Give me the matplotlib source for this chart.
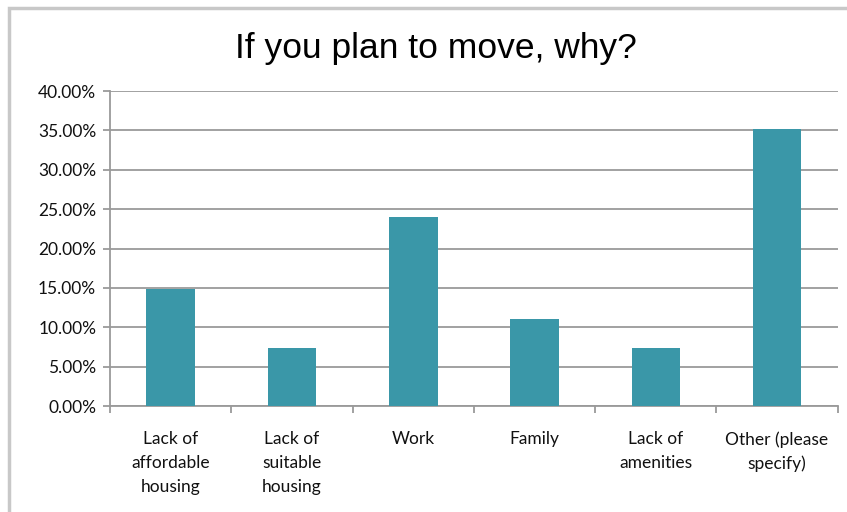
import matplotlib.pyplot as plt
from matplotlib.patches import Rectangle
from matplotlib.ticker import PercentFormatter
import numpy as np

# survey answers
categories = ['Lack of\naffordable\nhousing', 'Lack of\nsuitable\nhousing', 'Work',
              'Family', 'Lack of\namenities', 'Other (please\nspecify)']
shares = [14.81, 7.41, 24.07, 11.11, 7.41, 35.19]
y_ticks = [0, 5, 10, 15, 20, 25, 30, 35, 40]

fig = plt.figure(figsize=(8.47, 5.12), dpi=100)
ax = fig.add_axes([0.130, 0.207, 0.859, 0.615])

# chart frame, cut off at right and bottom like the screenshot
fig.patches.append(Rectangle((9 / 847, -0.1), 1.2, 1.1 - 8 / 512, transform=fig.transFigure,
                             fill=False, edgecolor='#c8c8c8', linewidth=2.5))

x = np.arange(len(categories))
ax.bar(x, shares, width=0.4, color='#3a97a8', zorder=3)

ax.set_xlim(-0.5, len(categories) - 0.5)
ax.set_ylim(0, 40)
ax.set_yticks(y_ticks)
ax.yaxis.set_major_formatter(PercentFormatter(decimals=2))
ax.grid(axis='y', color='#9a9a9a', linewidth=1.3, zorder=0)

ax.set_xticks(x)
ax.set_xticklabels(categories, fontsize=12.5, family='Lato', color='#111111', linespacing=1.6,
                   va='top')
ax.set_xticks(np.arange(len(categories) + 1) - 0.5, minor=True)
ax.tick_params(axis='x', which='major', length=0, pad=18)
ax.tick_params(axis='x', which='minor', length=5, color='#9a9a9a', width=1.3)
ax.tick_params(axis='y', length=5, color='#9a9a9a', width=1.3, pad=5)
for lbl in ax.get_yticklabels():
    lbl.set_family('Lato')
    lbl.set_fontsize(12.5)
    lbl.set_color('#111111')

for side in ['top', 'right']:
    ax.spines[side].set_visible(False)
for side in ['left', 'bottom']:
    ax.spines[side].set_color('#9a9a9a')
    ax.spines[side].set_linewidth(1.3)

fig.text(0.515, 0.905, 'If you plan to move, why?', ha='center', va='center',
         fontsize=25.5, family='Liberation Sans')

fig.savefig('out.png', dpi=100)
